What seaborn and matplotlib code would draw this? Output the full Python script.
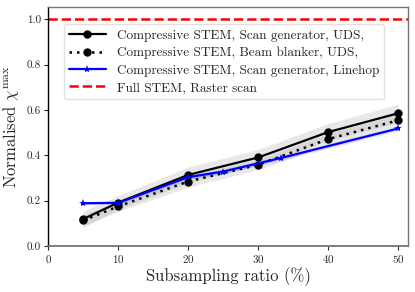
import numpy as np
import pandas as pd
import matplotlib
matplotlib.use("Agg")
import matplotlib.pyplot as plt
import seaborn as sns

# Data
x_uds = [5, 10, 20, 30, 40, 50]
sg_uds = [0.118, 0.191, 0.313, 0.390, 0.502, 0.585]
sg_uds_sd = [0.035, 0.030, 0.035, 0.035, 0.038, 0.040]
bb_uds = [0.112, 0.174, 0.284, 0.358, 0.471, 0.554]
bb_uds_sd = [0.025, 0.022, 0.025, 0.022, 0.025, 0.025]
x_lh = [5, 10, 20, 25, 33.3, 50]
sg_lh = [0.188, 0.190, 0.303, 0.328, 0.388, 0.518]
sg_lh_sd = [0.005, 0.008, 0.010, 0.010, 0.010, 0.010]
full_val = 1.0

labels = ["Compressive STEM, Scan generator, UDS,",
          "Compressive STEM, Beam blanker, UDS,",
          "Compressive STEM, Scan generator, Linehop",
          "Full STEM, Raster scan"]

sns.set_theme(style="white")
plt.rcParams['font.family'] = 'serif'
plt.rcParams['font.serif'] = ['cmr10']
plt.rcParams['mathtext.fontset'] = 'cm'
plt.rcParams['axes.formatter.use_mathtext'] = True
plt.rcParams['axes.unicode_minus'] = False

fig = plt.figure(figsize=(4.15, 2.92), dpi=100)
ax = fig.add_axes([0.116, 0.158, 0.867, 0.818])

df1 = pd.DataFrame({"x": x_uds, "y": sg_uds})
df2 = pd.DataFrame({"x": x_uds, "y": bb_uds})
df3 = pd.DataFrame({"x": x_lh, "y": sg_lh})

a1 = np.array(sg_uds); s1 = np.array(sg_uds_sd)
a2 = np.array(bb_uds); s2 = np.array(bb_uds_sd)
a3 = np.array(sg_lh); s3 = np.array(sg_lh_sd)
ax.fill_between(x_uds, a1 - s1, a1 + s1, color="0.6", alpha=0.22, linewidth=0)
ax.fill_between(x_uds, a2 - s2, a2 + s2, color="0.6", alpha=0.22, linewidth=0)
ax.fill_between(x_lh, a3 - s3, a3 + s3, color="blue", alpha=0.12, linewidth=0)

sns.lineplot(data=df1, x="x", y="y", ax=ax, color="black", linestyle="-",
             marker="o", markersize=6, markeredgewidth=0, linewidth=1.6, label=labels[0])
sns.lineplot(data=df2, x="x", y="y", ax=ax, color="black", linestyle=(0, (1, 2)),
             marker="o", markersize=6, markeredgewidth=0, linewidth=1.8, label=labels[1])
sns.lineplot(data=df3, x="x", y="y", ax=ax, color="blue", linestyle="-",
             marker="*", markersize=6, markeredgewidth=0, linewidth=1.6, label=labels[2])
ax.axhline(full_val, color="red", linestyle="--", linewidth=1.8, label=labels[3])

ax.set_xlim(0, 51.4)
ax.set_ylim(0, 1.054)
ax.set_xticks([0, 10, 20, 30, 40, 50])
ax.set_yticks([0.0, 0.2, 0.4, 0.6, 0.8, 1.0])
ax.set_yticklabels(["0.0", "0.2", "0.4", "0.6", "0.8", "1.0"])
ax.tick_params(axis="both", labelsize=8, length=3, width=0.8, direction="out",
               bottom=True, left=True, pad=2)
ax.set_xlabel("Subsampling ratio (%)", fontsize=12, labelpad=2)
ax.set_ylabel(r"Normalised $\chi^{\max}$", fontsize=12, labelpad=4)

for side in ["top", "right", "bottom"]:
    ax.spines[side].set_color("0.45")
    ax.spines[side].set_linewidth(1.0)
ax.spines["left"].set_color("black")
ax.spines["left"].set_linewidth(1.0)
ax.spines["bottom"].set_linewidth(1.3)

leg = ax.legend(loc="upper left", bbox_to_anchor=(0.025, 0.955), fontsize=9.5,
                frameon=True, framealpha=0.8, edgecolor="0.85", fancybox=True,
                handlelength=2.8, borderpad=0.4, labelspacing=0.38)

fig.savefig("out.png", dpi=100)
